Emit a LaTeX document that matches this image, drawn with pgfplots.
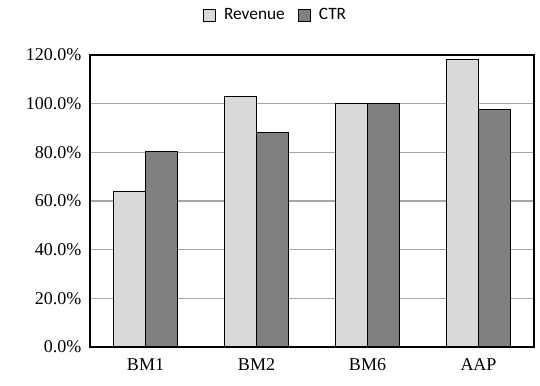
\documentclass[border=0pt]{standalone}
\usepackage{pgfplots}
\pgfplotsset{compat=1.18}
\usepackage{fontspec}
\setmainfont{Liberation Serif}
\newfontfamily\calibri{Carlito}
\definecolor{revc}{HTML}{D9D9D9}
\definecolor{ctrc}{HTML}{808080}
\definecolor{gridc}{HTML}{A6A6A6}
\begin{document}
\begin{tikzpicture}
\begin{axis}[
  scale only axis,
  width=333pt, height=219pt,
  ybar=0pt,
  bar width=0.285,
  xmin=-0.5, xmax=3.5,
  ymin=0, ymax=120,
  xtick=data,
  xticklabels={BM1,BM2,BM6,AAP},
  ytick={0,20,40,60,80,100,120},
  yticklabels={0.0\%,20.0\%,40.0\%,60.0\%,80.0\%,100.0\%,120.0\%},
  major tick length=0pt,
  ymajorgrids,
  major grid style={gridc, line width=0.9pt},
  axis line style={black, line width=0.9pt},
  tick label style={font=\fontsize{13.5}{15}\selectfont},
  yticklabel style={xshift=-3pt},
  xticklabel style={yshift=-5pt},
  legend style={draw=none, fill=none, font=\calibri\fontsize{13}{15}\selectfont,
    at={(0.419,1.137)}, anchor=center, column sep=4pt,
    /tikz/every even column/.append style={column sep=8pt}},
  legend columns=2,
  legend image code/.code={\draw[#1, draw=black, line width=0.6pt] (0pt,-4.5pt) rectangle (9pt,4.5pt);},
]
\addplot[fill=revc, draw=black, line width=0.8pt] coordinates {(0,64) (1,103) (2,100) (3,118.1)};
\addplot[fill=ctrc, draw=black, line width=0.8pt] coordinates {(0,80.5) (1,88) (2,100) (3,97.6)};
\legend{Revenue, CTR}
\coordinate (sw) at (rel axis cs:0,0);
\coordinate (ne) at (rel axis cs:1,1);
\end{axis}
\path (sw) ++(-67.5pt,-28.5pt) coordinate (bb1);
\path (ne) ++(4.5pt,41.25pt) coordinate (bb2);
\path (bb1) rectangle (bb2);
\end{tikzpicture}
\end{document}
